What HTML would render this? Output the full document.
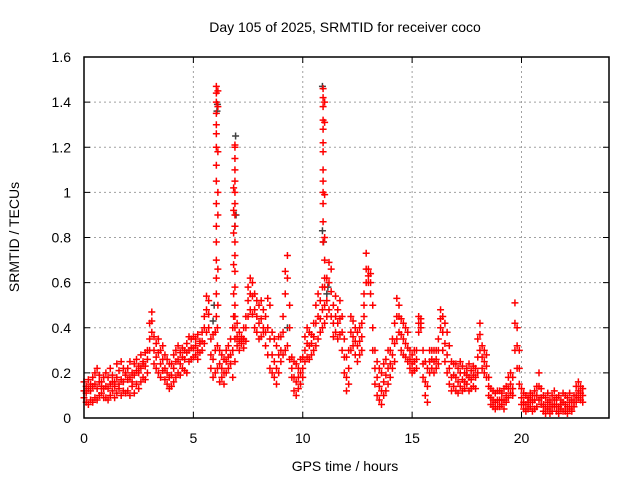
<!DOCTYPE html>
<html><head><meta charset="utf-8"><style>
html,body{margin:0;padding:0;background:#fff;}
svg{display:block;font-family:"Liberation Sans",sans-serif;}
</style></head><body>
<svg id="chart" width="640" height="480" viewBox="0 0 640 480">
<rect x="0" y="0" width="640" height="480" fill="#fff"/>
<g id="grid"></g>
<g id="marks"></g>
<g id="axes"></g>
<text x="345" y="32" font-size="14" text-anchor="middle">Day 105 of 2025, SRMTID for receiver coco</text>
<text x="345" y="471" font-size="14" text-anchor="middle">GPS time / hours</text>
<text x="0" y="0" font-size="14" text-anchor="middle" transform="translate(19,237) rotate(-90)">SRMTID / TECUs</text>
</svg>
<script>
const xTicks=[0,5,10,15,20];
const yTicks=[0,0.2,0.4,0.6,0.8,1,1.2,1.4,1.6];
const yTickLabels=["0","0.2","0.4","0.6","0.8","1","1.2","1.4","1.6"];
const seriesA=[
.09,.07,.06,.08,.07,.09,.08,.10,.11,.09,
.09,.08,.10,.12,.09,.11,.13,.10,.12,.11,
.12,.10,.14,.11,.15,.13,.16,.18,.17,.20,
.30,.38,.24,.22,.20,.18,.21,.17,.15,.13,
.14,.16,.18,.20,.19,.22,.21,.20,.25,.26,
.27,.28,.26,.29,.30,.33,.38,.40,.22,.18,
.20,.22,.16,.18,.15,.20,.22,.24,.18,.25,
.32,.30,.33,.31,.34,.45,.48,.46,.40,.38,
.35,.36,.38,.32,.28,.22,.20,.18,.15,.20,
.25,.28,.30,.32,.26,.18,.12,.10,.13,.15,
.18,.25,.27,.26,.28,.30,.32,.35,.38,.40,
.42,.45,.48,.45,.36,.38,.35,.37,.30,.20,
.12,.15,.30,.32,.28,.25,.28,.30,.45,.60,
.60,.55,.30,.15,.10,.08,.06,.10,.12,.15,
.18,.22,.25,.35,.38,.30,.28,.27,.25,.22,
.20,.21,.22,.38,.40,.18,.10,.07,.20,.22,
.20,.22,.24,.40,.30,.25,.20,.15,.12,.14,
.12,.11,.14,.12,.13,.15,.12,.13,.14,.13,
.20,.30,.22,.20,.18,.10,.06,.05,.04,.05,
.05,.06,.04,.07,.09,.11,.10,.30,.22,.15,
.06,.04,.03,.04,.05,.03,.04,.05,.08,.06,
.03,.02,.04,.02,.03,.05,.03,.02,.04,.03,
.03,.02,.04,.03,.05,.07,.09,.08,.07];
const seriesB=[
.16,.14,.17,.15,.18,.20,.22,.19,.16,.18,
.20,.18,.22,.19,.16,.24,.21,.25,.22,.20,
.22,.25,.20,.24,.26,.23,.28,.25,.29,.30,
.42,.47,.36,.33,.35,.30,.32,.28,.26,.24,
.24,.28,.30,.32,.29,.31,.30,.33,.36,.35,
.36,.35,.37,.34,.38,.45,.54,.52,.35,.37,
.38,.40,.30,.28,.26,.30,.32,.35,.40,.45,
.42,.38,.36,.40,.45,.58,.62,.60,.55,.52,
.50,.52,.48,.45,.53,.50,.38,.35,.32,.36,
.36,.45,.65,.72,.50,.27,.25,.24,.22,.26,
.27,.36,.40,.38,.37,.42,.50,.55,.52,.58,
.58,.62,.69,.66,.50,.54,.48,.52,.45,.35,
.27,.30,.45,.43,.40,.38,.40,.42,.55,.73,
.66,.64,.50,.30,.25,.22,.20,.24,.26,.30,
.30,.35,.42,.53,.50,.44,.42,.40,.38,.30,
.28,.30,.30,.45,.44,.30,.25,.22,.30,.30,
.30,.30,.35,.48,.45,.42,.38,.32,.25,.24,
.24,.22,.25,.23,.20,.22,.24,.21,.23,.22,
.35,.42,.32,.30,.28,.18,.13,.12,.11,.12,
.12,.11,.13,.14,.18,.20,.18,.51,.40,.30,
.13,.11,.10,.09,.11,.10,.12,.14,.20,.13,
.10,.09,.11,.08,.10,.12,.09,.10,.08,.11,
.10,.09,.11,.08,.10,.14,.16,.14,.13];
const seriesC=[
.12,.11,.13,.12,.14,.15,.13,.16,.14,.13,
.14,.13,.15,.16,.14,.18,.15,.17,.16,.19,
.17,.18,.16,.19,.21,.20,.22,.24,.23,.26,
.35,.43,.30,.27,.29,.24,.26,.22,.20,.18,
.19,.22,.25,.26,.24,.27,.26,.29,.30,.31,
.31,.32,.30,.33,.34,.40,.48,.46,.28,.26,
.30,.32,.24,.22,.20,.25,.27,.28,.30,.35,
.36,.34,.35,.35,.40,.52,.55,.54,.48,.45,
.42,.44,.40,.38,.40,.35,.28,.25,.22,.28,
.30,.38,.55,.62,.40,.22,.18,.16,.18,.20,
.22,.30,.33,.32,.33,.36,.42,.45,.44,.48,
.50,.52,.60,.56,.42,.45,.42,.44,.38,.27,
.18,.22,.38,.36,.34,.32,.34,.36,.50,.66,
.63,.60,.40,.22,.18,.14,.12,.16,.19,.22,
.24,.28,.33,.45,.45,.37,.35,.33,.31,.26,
.24,.25,.26,.42,.42,.24,.16,.14,.25,.26,
.25,.26,.30,.44,.38,.33,.28,.22,.18,.19,
.18,.16,.20,.17,.16,.19,.18,.17,.19,.18,
.27,.37,.27,.25,.23,.14,.09,.08,.07,.08,
.08,.08,.08,.10,.13,.15,.13,.42,.32,.22,
.09,.07,.06,.07,.08,.07,.08,.10,.14,.09,
.06,.05,.07,.05,.06,.08,.06,.05,.06,.07,
.06,.05,.07,.05,.07,.10,.12,.11,.10];
const spikeT=[6.05,6.05,6.05,6.05,6.05,6.05,6.05,6.05,6.05,6.05,6.05,6.05,6.05,6.05,6.05,6.05,
6.12,6.12,6.12,6.12,6.12,6.12,6.12,
6.9,6.9,6.9,6.9,6.9,6.9,6.9,6.9,6.9,6.9,6.9,6.9,6.9,6.9,6.9,
6.84,6.84,6.84,6.84,6.84,6.84,
10.93,10.93,10.93,10.93,10.93,10.93,10.93,10.93,10.93,10.93,10.93,10.93,10.93,
11.0,11.0,11.0,11.0,11.0,11.0];
const spikeV=[.45,.55,.62,.70,.78,.85,.95,1.05,1.12,1.20,1.26,1.30,1.35,1.40,1.44,1.47,
.50,.66,.90,1.00,1.18,1.38,1.45,
.40,.50,.58,.65,.72,.78,.85,.90,.95,1.00,1.05,1.10,1.15,1.20,1.21,
.45,.55,.68,.82,.92,1.02,
.78,.87,.95,1.00,1.05,1.10,1.18,1.22,1.28,1.32,1.38,1.42,1.46,
.62,.70,.80,.99,1.31,1.40];
const grayT=[5.9,5.95,6.08,6.1,6.93,6.95,6.9,10.9,10.95,10.9,11.1,11.15,9.3];
const grayV=[.43,.50,1.36,1.39,1.25,.90,.85,1.47,.78,.83,.55,.58,.40];

const X0=84,X1=609,Y0=418,Y1=57,XMAX=24,YMAX=1.6;
function xs(t){return X0+(X1-X0)*t/XMAX;}
function ys(v){return Y0-(Y0-Y1)*v/YMAX;}
const NS="http://www.w3.org/2000/svg";
const grid=document.getElementById('grid'),axes=document.getElementById('axes'),marks=document.getElementById('marks');
function mk(tag,attrs,parent){const e=document.createElementNS(NS,tag);for(const k in attrs)e.setAttribute(k,attrs[k]);parent.appendChild(e);return e;}
xTicks.forEach(function(t,i){
  if(t>0){const g=mk('line',{x1:xs(t),x2:xs(t),y1:Y0,y2:Y1,stroke:'#a0a0a0','stroke-width':1,'stroke-dasharray':'2,3'},grid);
  
  }
  mk('line',{x1:xs(t),x2:xs(t),y1:Y0,y2:Y0-6,stroke:'#000'},axes);
  mk('line',{x1:xs(t),x2:xs(t),y1:Y1,y2:Y1+6,stroke:'#000'},axes);
  const l=mk('text',{x:xs(t),y:443,'font-size':14,'text-anchor':'middle'},axes);
  l.textContent=String(t);
  
  
});
yTicks.forEach(function(v,i){
  if(v>0&&v<YMAX){const g=mk('line',{x1:X0,x2:X1,y1:ys(v),y2:ys(v),stroke:'#a0a0a0','stroke-width':1,'stroke-dasharray':'2,3'},grid);
  
  }
  mk('line',{x1:X0,x2:X0+6,y1:ys(v),y2:ys(v),stroke:'#000'},axes);
  mk('line',{x1:X1,x2:X1-6,y1:ys(v),y2:ys(v),stroke:'#000'},axes);
  const l=mk('text',{x:71,y:ys(v)+5,'font-size':14,'text-anchor':'end'},axes);
  l.textContent=yTickLabels[i];
  
  
});
const frame=mk('rect',{x:X0,y:Y1,width:X1-X0,height:Y0-Y1,fill:'none',stroke:'#000','stroke-width':1.5},axes);


function plus(t,v,color,name){
  const x=xs(t),y=ys(v);
  const p=mk('path',{d:'M'+(x-3.5)+' '+y+'H'+(x+3.5)+'M'+x+' '+(y-3.5)+'V'+(y+3.5),stroke:color,'stroke-width':1.5,fill:'none'},marks);
  
  
}
grayT.forEach(function(t,i){plus(t,grayV[i],'#404040','gray-point');});
[seriesA,seriesB,seriesC].forEach(function(s){
  s.forEach(function(v,i){plus(i*0.1,v,'#ff0000','red-point');});
});
spikeT.forEach(function(t,i){plus(t,spikeV[i],'#ff0000','spike-point');});
</script>
</body></html>
